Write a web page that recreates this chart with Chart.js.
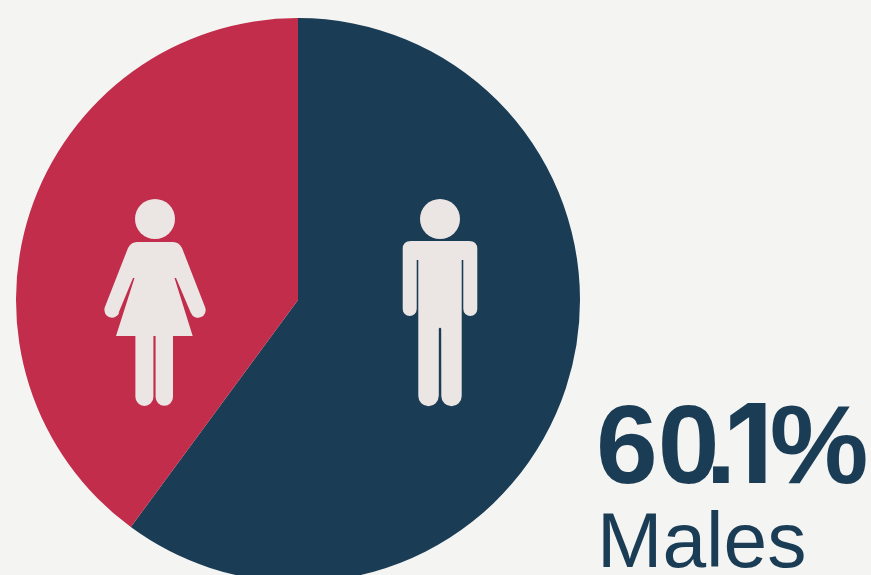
<!DOCTYPE html>
<html>
<head>
<meta charset="utf-8">
<title>Males and females</title>
<script src="https://cdn.jsdelivr.net/npm/chart.js@4"></script>
<style>
    html, body { margin: 0; padding: 0; width: 871px; height: 575px; overflow: hidden; background: #f4f4f2; }
    canvas { position: absolute; left: 0; top: 0; }
    .stat { position: absolute; color: #1a3c55; font-family: "Liberation Sans", Arial, sans-serif; white-space: nowrap; line-height: 1; }
    #stat-value { left: 596px; top: 388px; font-size: 111px; font-weight: bold; }
    #stat-value .zero { letter-spacing: -14px; }
    #stat-value .dot { letter-spacing: -11px; }
    #stat-value .one { font-family: Inter, "Liberation Sans", sans-serif; font-size: 110px; letter-spacing: 0px; }
    #stat-value .pct { letter-spacing: 0; margin-left: -3px; }
    #stat-label { left: 597px; top: 501px; font-size: 78.5px; }
</style>
</head>
<body>
<canvas id="pie-chart" width="871" height="620"></canvas>
<div class="stat" id="stat-value"><span>6</span><span class="zero">0</span><span class="dot">.</span><span class="one">1</span><span class="pct">%</span></div>
<div class="stat" id="stat-label">Males</div>
<script>
const categories = ['Males', 'Females'];
const shares = [60.1, 39.9];
const sliceColors = ['#1a3c55', '#c22d4b'];
const iconColor = '#ebe6e4';

// 사람 아이콘 (차트 장식)
function drawFemale(ctx) {
    ctx.beginPath();
    ctx.arc(155, 219, 20, 0, Math.PI * 2);
    ctx.fill();

    ctx.beginPath();
    ctx.moveTo(137, 242);
    ctx.lineTo(173, 242);
    ctx.quadraticCurveTo(179, 242, 182, 248);
    ctx.lineTo(205, 307);
    ctx.arc(198, 310, 7.7, -0.4, Math.PI * 0.9);
    ctx.lineTo(176, 278);
    ctx.lineTo(174.5, 278);
    ctx.lineTo(192.7, 336);
    ctx.lineTo(173, 336);
    ctx.lineTo(173, 397);
    ctx.arc(164.3, 397, 8.7, 0, Math.PI);
    ctx.lineTo(155.6, 336);
    ctx.lineTo(153.4, 336);
    ctx.lineTo(153.4, 397);
    ctx.arc(144.4, 397, 9, 0, Math.PI);
    ctx.lineTo(135.4, 336);
    ctx.lineTo(116, 336);
    ctx.lineTo(134.5, 278);
    ctx.lineTo(133, 278);
    ctx.lineTo(118.5, 313);
    ctx.arc(112, 310, 7.7, Math.PI * 0.1, Math.PI + 0.4);
    ctx.lineTo(128, 248);
    ctx.quadraticCurveTo(131, 242, 137, 242);
    ctx.closePath();
    ctx.fill();
}

function drawMale(ctx) {
    ctx.beginPath();
    ctx.arc(440, 219, 20, 0, Math.PI * 2);
    ctx.fill();

    ctx.beginPath();
    ctx.moveTo(411, 241);
    ctx.lineTo(469, 241);
    ctx.quadraticCurveTo(477.3, 241, 477.3, 249);
    ctx.lineTo(477.3, 309);
    ctx.arc(470.3, 309, 7, 0, Math.PI);
    ctx.lineTo(463.3, 260);
    ctx.lineTo(461.7, 260);
    ctx.lineTo(461.7, 396);
    ctx.arc(451.5, 396, 10.2, 0, Math.PI);
    ctx.lineTo(441.2, 329);
    ctx.arc(440, 329, 1.2, 0, Math.PI, true);
    ctx.lineTo(438.8, 396);
    ctx.arc(428.5, 396, 10.2, 0, Math.PI);
    ctx.lineTo(418.3, 260);
    ctx.lineTo(416.7, 260);
    ctx.lineTo(416.7, 309);
    ctx.arc(409.7, 309, 7, 0, Math.PI);
    ctx.lineTo(402.7, 249);
    ctx.quadraticCurveTo(402.7, 241, 411, 241);
    ctx.closePath();
    ctx.fill();
}

const iconPlugin = {
    id: 'people',
    afterDraw(chart) {
        const ctx = chart.ctx;
        ctx.save();
        ctx.fillStyle = iconColor;
        drawFemale(ctx);
        drawMale(ctx);
        ctx.restore();
    }
};

new Chart(document.getElementById('pie-chart').getContext('2d'), {
    type: 'pie',
    data: {
        labels: categories,
        datasets: [{
            data: shares,
            backgroundColor: sliceColors,
            borderWidth: 0
        }]
    },
    options: {
        responsive: false,
        animation: false,
        layout: { padding: { left: 16, right: 291, top: 18, bottom: 38 } },
        plugins: {
            legend: { display: false },
            tooltip: { enabled: false }
        }
    },
    plugins: [iconPlugin]
});
</script>
</body>
</html>
